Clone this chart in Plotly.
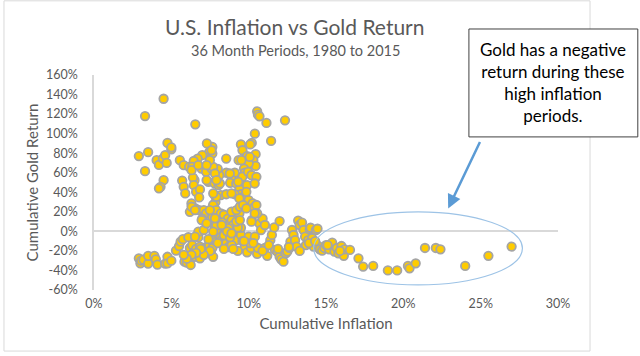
import plotly.graph_objects as go

# Cumulative inflation (%) and cumulative gold return (%) over 36-month periods
inflation = [
    2.9, 3.3, 3.3, 3.5, 4.5, 4.05, 4.2, 4.45, 4.6, 4.7, 4.75, 5.0, 5.0, 4.5, 4.3, 4.2, 5.55, 5.7, 5.8, 5.9, 5.8, 6.15,
    2.9, 3.0, 3.05, 3.2, 3.5, 3.5, 3.9, 4.0, 4.1, 4.6, 4.75, 4.75, 5.0, 5.3, 5.5, 5.6, 5.75, 5.85, 6.0, 6.1, 6.2,
    6.25, 6.35, 6.4, 6.5, 6.6, 6.75, 6.85, 6.85, 7.0, 6.75, 7.1, 7.1, 7.3, 7.45, 7.55, 7.7, 7.65, 7.8, 7.9, 8.05,
    8.1, 8.2, 8.3, 8.45, 8.55, 8.7, 8.8, 8.95, 9.1, 9.2, 9.5, 9.75, 9.9, 10.0, 10.15, 10.4, 10.55, 10.6, 11.05,
    11.2, 11.4, 11.5, 11.7, 11.85, 12.0, 12.1, 12.25, 12.4, 12.5, 12.65, 12.7, 12.8, 12.9, 13.0, 13.1, 13.2, 13.3,
    13.45, 13.55, 13.65, 13.7, 13.85, 13.95, 14.0, 14.1, 14.2, 14.35, 14.45, 14.5, 14.6, 14.75, 14.9, 15.0, 15.2,
    15.4, 15.55, 15.7, 15.8, 16.0, 16.15, 16.2, 16.55, 17.1, 17.4, 18.05, 19.0, 19.6, 20.3, 20.4, 20.8, 21.4, 22.1,
    22.4, 24.0, 25.5, 27.0,
    6.55, 10.55, 10.6, 10.7, 11.15, 12.35, 11.45, 10.4, 10.2, 10.1, 9.5, 9.6, 9.9, 10.45, 10.3, 10.45, 10.0, 9.7,
    9.35, 9.1, 9.75, 9.5, 9.6, 8.9, 8.8, 9.2, 9.6, 9.9, 9.4, 9.5, 9.1, 9.75, 9.4, 10.0, 10.25, 10.35, 10.5, 10.2,
    10.7, 10.8, 10.9, 11.05, 11.65, 12.0, 10.55, 9.1, 9.2, 9.4, 8.55, 8.55, 8.1, 8.0, 7.65, 7.3, 7.45, 7.65, 7.0,
    6.7, 6.45, 6.35, 6.95, 7.25, 7.6, 7.7, 7.4, 7.8, 8.05, 6.5, 6.4, 6.45, 6.6, 6.85, 6.8, 7.8, 8.2, 8.55, 7.85,
    7.7, 6.3, 6.2, 6.55, 6.8, 7.1, 7.25, 7.0, 7.55, 7.9, 8.2, 8.4, 8.65, 7.7, 7.8, 7.9, 8.3, 8.8, 8.9, 9.0, 8.7,
    9.5, 7.65,
    8.0, 8.4, 8.9, 9.3, 9.6, 10.1, 10.9, 11.3, 11.9, 12.6, 13.3, 13.9, 14.3, 15.1, 15.9, 9.0, 9.7, 10.3, 8.4, 7.5,
    7.1, 6.9, 6.6, 6.3, 6.0, 5.8, 8.8, 9.3, 7.9, 8.6, 9.2, 7.4,
    6.31, 6.74, 7.6, 7.49, 7.28, 7.82, 8.14, 7.92, 8.78, 9.32, 9.53, 10.07, 9.96, 10.18, 10.5, 10.39, 9.85, 8.89,
    7.92, 7.71, 7.28, 6.31, 6.53, 7.49, 6.96, 7.28, 7.82, 8.89, 9.21, 9.43, 9.64, 9.85, 10.39, 10.18, 9.43, 8.89,
    8.25, 7.71, 6.53,
]
gold = [
    77, 118, 61.6, 81, 135.7, 72.8, 68, 74.5, 78, 70, 90.5, 84, 86, 52.4, 45.6, 44, 72.8, 52, 45.6, 38.8, 67.7, 66,
    -27.6, -32.7, -30, -29, -33, -25, -25, -28.6, -34, -33, -26, -32.7, -30, -19.7, -15, -10.5, -8, -31, -32, -6, -17,
    -34.4, -14, -22.4, -26, -18, -6, -15.6, -27.5, -22, -0.3, 1.4, -20.7, -15.6, -14, -21, -26, -17, -7, -10.5, -3.7,
    1.4, -5.4, -8, -2, -12, -16, -7, -2, 1.4, -9, -3.7, -15.6, -21.4, -5.4, -17, -5.4, -23, -17, -17,
    -25, -9, -3.7, -19, -20.7, -26, -28.6, -31, -22.4, -20.7, -17, -10.5, 1.4, -3.7, -9, -15.6, 11, 6.5,
    9, 1.4, -5.4, -14, -9, 2, 3.7, -7, -15.6, 1.4, 2.7, -15, -18.4, -19.7, -17, -14, -18.4,
    -11.6, -20.7, -17, -22.4, -15, -25, -18.4, -19, -27.6, -36, -35.4, -40, -40, -35.4, -37.8, -32.7, -17, -17,
    -18.4, -35.4, -25, -15.6,
    109.5, 122.8, 119.4, 117.7, 111, 113.6, 92.5, 100, 90.5, 89, 89, 83, 77, 79, 72.8, 67, 69.4, 64.3,
    72.8, 60, 60, 52.4, 56, 53, 49.7, 49, 46, 47.3, 43, 38, 38, 37, 33.7, 32, 28.6, 24.5, 27, 11.6,
    8, 1.4, 13, 6.5, 4, 10.5, 18.4, 19, 16.7, 18.4, 74.5, 60, 57.5, 64, 86.4, 90, 81, 79.6, 78,
    74.5, 72, 66, 64.3, 61, 64.3, 66, 50.7, 49, 47.3, 52.4, 55, 47.3, 40.5, 42.9, 34.7, 37, 37, 38, 30,
    27, 28.6, 20, 23.5, 21.8, 21.8, 18.4, 13, 20, 21.8, 18.4, 17, 13, 10, 4.8, 1.4, 9, 8, 11.6, 6.5, 3,
    3.7, 14,
    -12, -18, -14, -20, -10, -12, -20, -14, -18, -16, -20, -12, -10, -14, -20, -18, -10, -12, -4, -20,
    -24, -18, -22, -24, -28, -24, -6, 4, 6, 0, 10, -8,
    62.6, 67.7, 83, 72.8, 67.7, 59.2, 49, 52.4, 59.2, 50.7, 72.8, 76.2, 60.9, 57.5, 55.8, 49, 40.5, 38.8,
    35.4, 38.8, 52.4, 25.2, 21.8, 21.8, 11.6, 8.2, 13.3, 20.1, 21.8, 25.2, 26.9, 23.5, 18.4, 9.9, 11.6, -2,
    6.5, -0.3, -5.4,
]

x_ticks = [0, 5, 10, 15, 20, 25, 30]
x_labels = ["0%", "5%", "10%", "15%", "20%", "25%", "30%"]
y_ticks = [-60, -40, -20, 0, 20, 40, 60, 80, 100, 120, 140, 160]
y_labels = ["-60%", "-40%", "-20%", "0%", "20%", "40%", "60%", "80%", "100%", "120%", "140%", "160%"]

title_text = "U.S. Inflation vs Gold Return"
subtitle_text = "36 Month Periods, 1980 to 2015"
callout_text = "Gold has a negative<br>return during these<br>high inflation<br>periods."

FONT = "Lato, 'Open Sans', sans-serif"
GRAY = "#595959"

fig = go.Figure(go.Scatter(
    x=inflation, y=gold, mode="markers",
    marker=dict(size=8.5, color="#FFCC00", line=dict(color="#A5A5A5", width=1.8)),
    showlegend=False, hoverinfo="skip",
))

fig.update_layout(
    width=640, height=356,
    margin=dict(l=94, r=82, t=75, b=66),
    paper_bgcolor="white", plot_bgcolor="white",
    font=dict(family=FONT, color=GRAY, size=12),
    xaxis=dict(
        range=[0, 30], tickvals=x_ticks, ticktext=x_labels, showgrid=False, zeroline=False,
        showline=False, ticks="outside", ticklen=2, tickcolor="rgba(0,0,0,0)",
        tickfont=dict(size=12.5, color=GRAY),
        title=dict(text="Cumulative Inflation", font=dict(size=15, color=GRAY), standoff=8),
    ),
    yaxis=dict(
        range=[-60, 160], tickvals=y_ticks, ticktext=y_labels, showgrid=False,
        zeroline=True, zerolinecolor="#D9D9D9", zerolinewidth=1.5,
        showline=True, linecolor="#D9D9D9", linewidth=1.5,
        ticks="outside", ticklen=12, tickcolor="rgba(0,0,0,0)",
        tickfont=dict(size=12.5, color=GRAY),
        title=dict(text="Cumulative Gold Return", font=dict(size=15, color=GRAY), standoff=4),
    ),
    shapes=[
        # chart border
        dict(type="rect", xref="paper", yref="paper", x0=-0.194, x1=1.069, y0=-0.284, y1=1.345,
             line=dict(color="#D9D9D9", width=1), layer="below"),
        # ellipse highlighting high-inflation periods
        dict(type="circle", xref="x", yref="y", x0=14.2, x1=27.7, y0=-54.8, y1=20.0,
             line=dict(color="#9DC3E6", width=1.2)),
        # callout box
        dict(type="rect", xref="paper", yref="paper", x0=0.808, x1=1.172, y0=0.712, y1=1.214,
             line=dict(color="#404040", width=1), fillcolor="white"),
    ],
    annotations=[
        dict(text=title_text, xref="paper", yref="paper", x=0.434, y=1.225, showarrow=False,
             font=dict(size=21, color=GRAY, family=FONT), xanchor="center", yanchor="middle"),
        dict(text=subtitle_text, xref="paper", yref="paper", x=0.434, y=1.112, showarrow=False,
             font=dict(size=14.5, color=GRAY, family=FONT), xanchor="center", yanchor="middle"),
        dict(text=callout_text, xref="paper", yref="paper", x=0.99, y=0.963, showarrow=False,
             font=dict(size=17, color="#000000", family=FONT), xanchor="center", yanchor="middle",
             align="center"),
        dict(x=22.9, y=23.5, xref="x", yref="y", ax=25.0, ay=93, axref="x", ayref="y",
             text="", showarrow=True, arrowhead=2, arrowsize=1.1, arrowwidth=2.5,
             arrowcolor="#5B9BD5"),
    ],
)

fig.write_html("out.html", config={"displayModeBar": False},
               post_script="document.body.style.margin='0';")
